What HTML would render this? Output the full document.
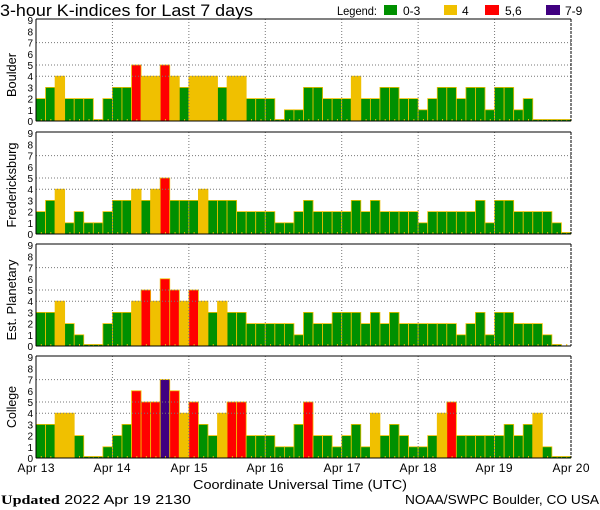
<!DOCTYPE html>
<html><head><meta charset="utf-8"><style>
html,body{margin:0;padding:0;background:#fff;}
svg{display:block;font-family:"Liberation Sans","DejaVu Sans",sans-serif;}
</style></head><body>
<svg id="s" width="600" height="510" viewBox="0 0 600 510" xmlns="http://www.w3.org/2000/svg">
<rect width="600" height="510" fill="#fff"/>
<text x="0" y="16" font-size="16.5" fill="#000" textLength="253" lengthAdjust="spacingAndGlyphs">3-hour K-indices for Last 7 days</text>
<text x="337" y="15" font-size="12" fill="#000" textLength="40" lengthAdjust="spacingAndGlyphs">Legend:</text>
<rect x="384" y="5" width="13" height="10" fill="#009000"/><text x="403" y="15" font-size="12">0-3</text>
<rect x="444" y="5" width="13" height="10" fill="#f0c000"/><text x="462" y="15" font-size="12">4</text>
<rect x="485" y="5" width="14" height="10" fill="#ff0000"/><text x="505" y="15" font-size="12">5,6</text>
<rect x="546" y="5" width="14" height="10" fill="#400080"/><text x="565" y="15" font-size="12">7-9</text>
<g id="g"></g>
<text transform="translate(16,75) rotate(-90)" text-anchor="middle" font-size="13" textLength="44" lengthAdjust="spacingAndGlyphs">Boulder</text>
<text transform="translate(16,185) rotate(-90)" text-anchor="middle" font-size="13" textLength="85" lengthAdjust="spacingAndGlyphs">Fredericksburg</text>
<text transform="translate(16,300) rotate(-90)" text-anchor="middle" font-size="13" textLength="81" lengthAdjust="spacingAndGlyphs">Est. Planetary</text>
<text transform="translate(16,407) rotate(-90)" text-anchor="middle" font-size="13" textLength="42" lengthAdjust="spacingAndGlyphs">College</text>
<g font-size="12" text-anchor="middle">
<text x="36" y="472" textLength="37">Apr 13</text><text x="112" y="472" textLength="37">Apr 14</text><text x="189" y="472" textLength="37">Apr 15</text><text x="265" y="472" textLength="37">Apr 16</text><text x="342" y="472" textLength="37">Apr 17</text><text x="418" y="472" textLength="37">Apr 18</text><text x="494" y="472" textLength="37">Apr 19</text><text x="571" y="472" textLength="37">Apr 20</text>
</g>
<text x="193" y="489" font-size="13" textLength="214" lengthAdjust="spacingAndGlyphs">Coordinate Universal Time (UTC)</text>
<text x="1" y="504" font-size="13" textLength="190" lengthAdjust="spacingAndGlyphs"><tspan font-family="Liberation Serif,serif" font-weight="bold">Updated</tspan> 2022 Apr 19 2130</text>
<text x="405" y="504" font-size="13" textLength="194" lengthAdjust="spacingAndGlyphs">NOAA/SWPC Boulder, CO USA</text>
<g font-size="10" text-anchor="end" id="ticks"></g>
</svg>
<script>
var data=[
[2,3,4,2,2,2,0,2,3,3,5,4,4,5,4,3,4,4,4,3,4,4,2,2,2,0,1,1,3,3,2,2,2,4,2,2,3,3,2,2,1,2,3,3,2,3,3,1,3,3,1,2,0,0,0,0],
[2,3,4,1,2,1,1,2,3,3,4,3,4,5,3,3,3,4,3,3,3,2,2,2,2,1,1,2,3,2,2,2,2,3,2,3,2,2,2,2,1,2,2,2,2,2,3,1,3,3,2,2,2,2,1,0],
[3,3,4,2,1,0,0,2,3,3,4,5,4,6,5,4,5,4,3,4,3,3,2,2,2,2,2,1,3,2,2,3,3,3,2,3,2,3,2,2,2,2,2,2,1,2,3,1,3,3,2,2,2,1,0,-1],
[3,3,4,4,2,0,0,1,2,3,6,5,5,7,6,4,5,3,2,4,5,5,2,2,2,1,1,3,5,2,2,1,2,3,1,4,2,3,2,1,1,2,4,5,2,2,2,2,2,3,2,3,4,1,0,0]];
var tops=[19,132,244,356],L=36,R=571,H=102,U=11.2,bw=(R-L)/56;
var h='',tk='';
function col(v){return v<=3?'#009000':v==4?'#f0c000':v<=6?'#ff0000':'#400080';}
for(var p=0;p<4;p++){var t=tops[p],b=t+H;
 for(var i=0;i<56;i++){var v=data[p][i];var x=L+i*bw;
  if(v>=0){var hh=v==0?1.5:v*U;h+='<rect x="'+x.toFixed(2)+'" y="'+(b-hh).toFixed(2)+'" width="'+bw.toFixed(2)+'" height="'+hh.toFixed(2)+'" fill="'+col(v)+'" stroke="#f0c000" stroke-width="0.8"/>';}
  h+='<rect x="'+(x+bw/2).toFixed(2)+'" y="'+(b-2)+'" width="1" height="2" fill="#f0c000"/>';}
 [4,5,7].forEach(function(k){var y=b-k*U;h+='<line x1="'+L+'" x2="'+R+'" y1="'+y+'" y2="'+y+'" stroke="#777" stroke-dasharray="1,2"/>';});
 for(var d=1;d<7;d++){var x=L+d*8*bw;h+='<line x1="'+x+'" x2="'+x+'" y1="'+t+'" y2="'+b+'" stroke="#777" stroke-dasharray="1,2"/>';}
 h+='<line x1="'+L+'" x2="'+R+'" y1="'+t+'" y2="'+t+'" stroke="#000"/><line x1="'+L+'" x2="'+R+'" y1="'+b+'" y2="'+b+'" stroke="#000"/><line x1="'+L+'" x2="'+L+'" y1="'+t+'" y2="'+b+'" stroke="#000"/><line x1="'+R+'" x2="'+R+'" y1="'+t+'" y2="'+b+'" stroke="#000" stroke-dasharray="3,1"/>';
 for(var k=0;k<=9;k++){tk+='<text x="33" y="'+(b-k*U+4).toFixed(1)+'">'+k+'</text>';}
}
document.getElementById('g').innerHTML=h;
document.getElementById('ticks').innerHTML=tk;
</script>
</body></html>
